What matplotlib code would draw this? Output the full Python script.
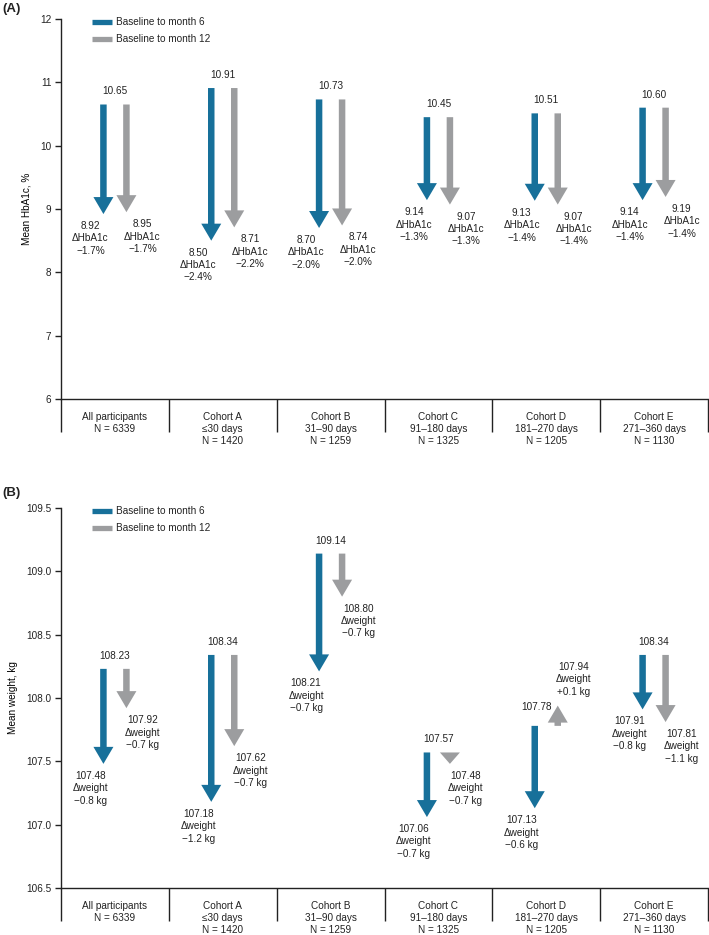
import matplotlib
matplotlib.use('Agg')
import matplotlib.pyplot as plt
from matplotlib.patches import FancyArrow
from matplotlib.lines import Line2D
import matplotlib.transforms as mtransforms

plt.rcParams['font.family'] = ['Liberation Sans', 'DejaVu Sans']
plt.rcParams['font.size'] = 7.2
plt.rcParams['text.color'] = '#222222'
plt.rcParams['axes.edgecolor'] = '#222222'
plt.rcParams['xtick.color'] = '#222222'
plt.rcParams['ytick.color'] = '#222222'

# ---------------- data ----------------
categories = [
    "All participants\nN = 6339",
    "Cohort A\n\u226430 days\nN = 1420",
    "Cohort B\n31\u201390 days\nN = 1259",
    "Cohort C\n91\u2013180 days\nN = 1325",
    "Cohort D\n181\u2013270 days\nN = 1205",
    "Cohort E\n271\u2013360 days\nN = 1130",
]
series_labels = ["Baseline to month 6", "Baseline to month 12"]

hba1c_baseline = [10.65, 10.91, 10.73, 10.45, 10.51, 10.60]
hba1c_month6 = [8.92, 8.50, 8.70, 9.14, 9.13, 9.14]
hba1c_month12 = [8.95, 8.71, 8.74, 9.07, 9.07, 9.19]
hba1c_delta6 = [-1.7, -2.4, -2.0, -1.3, -1.4, -1.4]
hba1c_delta12 = [-1.7, -2.2, -2.0, -1.3, -1.4, -1.4]

weight_baseline = [108.23, 108.34, 109.14, 107.57, 107.78, 108.34]
weight_month6 = [107.48, 107.18, 108.21, 107.06, 107.13, 107.91]
weight_month12 = [107.92, 107.62, 108.80, 107.48, 107.94, 107.81]
weight_delta6 = [-0.8, -1.2, -0.7, -0.7, -0.6, -0.8]
weight_delta12 = [-0.7, -0.7, -0.7, -0.7, 0.1, -1.1]

hba1c_ticks = [6, 7, 8, 9, 10, 11, 12]
weight_ticks = [106.5, 107.0, 107.5, 108.0, 108.5, 109.0, 109.5]

# ---------------- style ----------------
BLUE = '#17709a'
GRAY = '#9c9d9f'
W, H, DPI = 7.09, 9.35, 100
AX_LEFT, AX_RIGHT = 61, 708


def fmt_delta(v, unit):
    s = f"{v:+.1f}"
    return s.replace('-', '\u2212') + unit


def draw_panel(ax, baseline, m6, m12, d6, d12, ticks, tickfmt, ylabel, dname, unit):
    n = len(categories)
    ax.set_xlim(0, n)
    ax.set_ylim(ticks[0], ticks[-1])
    ax.set_yticks(ticks)
    ax.set_yticklabels([tickfmt.format(t) for t in ticks])
    ax.set_xticks([])
    for s in ['top', 'right']:
        ax.spines[s].set_visible(False)
    ax.spines['left'].set_linewidth(1.0)
    ax.spines['bottom'].set_linewidth(1.0)
    ax.tick_params(axis='y', length=4, width=1.0, pad=3, labelsize=7.2)
    ax.set_ylabel(ylabel, fontsize=7.2, labelpad=6)

    fig = ax.figure
    fig.canvas.draw()
    bb = ax.get_window_extent()
    px_x = bb.width / n
    px_y = bb.height / (ticks[-1] - ticks[0])

    shaft = 6.5 / px_x
    headw = 20 / px_x
    headl = 17 / px_y
    off = 11.5 / px_x

    for i in range(n):
        c = i + 0.5
        going_up = False
        for k, (ends, deltas, col, sgn, lx) in enumerate(
                [(m6, d6, BLUE, -1, -13), (m12, d12, GRAY, 1, 16)]):
            x = c + sgn * off
            y0 = baseline[i]
            y1 = ends[i]
            dy = y1 - y0
            hl = min(headl, abs(dy))
            arr = FancyArrow(x, y0, 0, dy, width=shaft, head_width=headw,
                             head_length=hl, length_includes_head=True,
                             color=col, lw=0)
            ax.add_patch(arr)
            txt = f"{y1:.2f}\n\u0394{dname}\n{fmt_delta(deltas[i], unit)}"
            if dy >= 0:
                going_up = True
                ax.annotate(txt, (x, y1), xytext=(lx, 9),
                            textcoords='offset pixels', ha='center', va='bottom',
                            linespacing=1.3, fontsize=7.2)
            else:
                ax.annotate(txt, (x, y1), xytext=(lx, -7),
                            textcoords='offset pixels', ha='center', va='top',
                            linespacing=1.3, fontsize=7.2)
        if going_up:
            bx, by = -10, 14
        else:
            bx, by = 0, 8
        ax.annotate(f"{baseline[i]:.2f}", (c, baseline[i]), xytext=(bx, by),
                    textcoords='offset pixels', ha='center', va='bottom',
                    fontsize=7.2)

    # category box
    trans = mtransforms.blended_transform_factory(ax.transData, ax.transAxes)
    drop = 33 / bb.height
    for b in range(n + 1):
        ax.plot([b, b], [0, -drop], transform=trans, color='#222222', lw=1.0,
                clip_on=False, solid_capstyle='butt')
    for i, lab in enumerate(categories):
        ax.annotate(lab, (i + 0.5, 0), xycoords=trans, xytext=(0, -13),
                    textcoords='offset pixels', ha='center', va='top',
                    linespacing=1.25, fontsize=7.2)

    handles = [Line2D([], [], color=BLUE, lw=3.8, solid_capstyle='butt'),
               Line2D([], [], color=GRAY, lw=3.8, solid_capstyle='butt')]
    ax.legend(handles, series_labels, loc='upper left',
              bbox_to_anchor=(31 / bb.width, 1.0 + 2 / bb.height),
              frameon=False, borderpad=0, borderaxespad=0, handlelength=2.0,
              handletextpad=0.45, labelspacing=0.7, fontsize=7.2)


fig = plt.figure(figsize=(W, H), dpi=DPI)
figw, figh = W * DPI, H * DPI
axA = fig.add_axes([AX_LEFT / figw, 1 - 399 / figh, (AX_RIGHT - AX_LEFT) / figw, 380 / figh])
axB = fig.add_axes([AX_LEFT / figw, 1 - 888 / figh, (AX_RIGHT - AX_LEFT) / figw, 380 / figh])

draw_panel(axA, hba1c_baseline, hba1c_month6, hba1c_month12, hba1c_delta6,
           hba1c_delta12, hba1c_ticks, "{:.0f}", "Mean HbA1c, %", "HbA1c", "%")
draw_panel(axB, weight_baseline, weight_month6, weight_month12, weight_delta6,
           weight_delta12, weight_ticks, "{:.1f}", "Mean weight, kg", "weight", " kg")

fig.text(2 / figw, 1 - 9 / figh, "(A)", fontweight='bold', fontsize=9.5, va='center', ha='left')
fig.text(2 / figw, 1 - 493 / figh, "(B)", fontweight='bold', fontsize=9.5, va='center', ha='left')

fig.savefig('out.png', dpi=DPI)
